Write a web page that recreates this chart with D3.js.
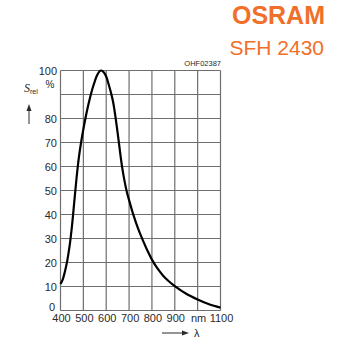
<!DOCTYPE html>
<html><head><meta charset="utf-8">
<script src="https://cdn.jsdelivr.net/npm/d3@7"></script>
<style>body{margin:0;background:#fff}svg{display:block}</style>
</head><body><div id="c"></div>
<script>
const wavelengths = [400,410,420,430,440,450,460,470,480,490,500,510,520,530,540,550,560,570,578,590,600,610,620,630,640,650,660,670,680,690,700,720,740,760,780,800,825,850,875,900,950,1000,1050,1100];
const srel        = [11,13,16.5,21,27,35,45,55,63.5,70,75.5,80.5,85,89,92.5,95.5,98,99.6,100,99.2,97.5,94.5,91,87,81,74,66.5,59.5,54,49.5,46,39.5,34,29.3,25,21.2,17.4,14.4,12.1,10.2,7,4.6,2.6,1.2];
const xTicks = [400,500,600,700,800,900,1000,1100];
const xTickLabels = ["400","500","600","700","800","900","nm","1100"];
const yTicks = [0,10,20,30,40,50,60,70,80,90,100];
const yTickLabels = ["0","10","20","30","40","50","60","70","80","","100"];

const W=350,H=350;
const svg=d3.select("#c").append("svg").attr("width",W).attr("height",H);
const x=d3.scaleLinear().domain([400,1100]).range([60.5,220.5]);
const y=d3.scaleLinear().domain([0,100]).range([310.5,70.5]);
const font="Liberation Sans, Arial, Helvetica, sans-serif";
const txt="#2a2a2a", grid="#6e6e6e", orange="#f0702a";

// grid
svg.append("g").selectAll("line").data(xTicks).join("line")
  .attr("x1",d=>x(d)).attr("x2",d=>x(d)).attr("y1",y(0)).attr("y2",y(100))
  .attr("stroke",grid).attr("stroke-width",1.2);
svg.append("g").selectAll("line").data(yTicks).join("line")
  .attr("y1",d=>y(d)).attr("y2",d=>y(d)).attr("x1",x(400)).attr("x2",x(1100))
  .attr("stroke",grid).attr("stroke-width",1.2);

// curve
const line=d3.line().x((d,i)=>x(wavelengths[i])).y(d=>y(d)).curve(d3.curveCatmullRom.alpha(0.5));
svg.append("path").datum(srel).attr("d",line).attr("fill","none")
  .attr("stroke","#000").attr("stroke-width",2.2).attr("stroke-linejoin","round");

// y labels
svg.append("g").selectAll("text").data(yTicks).join("text")
  .attr("x",d=>d===0?55:57).attr("y",d=>y(d)+(d===0?0:4))
  .attr("text-anchor","end").attr("font-family",font).attr("font-size",11)
  .attr("fill",txt).text((d,i)=>yTickLabels[i]);
svg.append("text").attr("x",50).attr("y",y(94.5)+4).attr("text-anchor","middle")
  .attr("font-family",font).attr("font-size",10).attr("fill",txt).text("%");

// x labels
svg.append("g").selectAll("text").data(xTicks).join("text")
  .attr("x",d=>x(d)+1).attr("y",322)
  .attr("text-anchor","middle").attr("font-family",font).attr("font-size",11)
  .attr("fill",txt).text((d,i)=>xTickLabels[i]);

// axis titles
const s=svg.append("text").attr("x",24).attr("y",92).attr("font-family","Liberation Serif, DejaVu Serif, serif")
  .attr("font-style","italic").attr("font-size",12).attr("fill",txt);
s.append("tspan").text("S");
s.append("tspan").attr("font-family",font).attr("font-style","normal").attr("font-size",7).attr("dy",2).text("rel");
svg.append("line").attr("x1",29).attr("x2",29).attr("y1",124).attr("y2",110).attr("stroke",txt).attr("stroke-width",1);
svg.append("path").attr("d","M29,104 L26.5,111 L31.5,111 Z").attr("fill",txt);

svg.append("line").attr("x1",162).attr("x2",183).attr("y1",333).attr("y2",333).attr("stroke",txt).attr("stroke-width",1);
svg.append("path").attr("d","M189,333 L182,330.5 L182,335.5 Z").attr("fill",txt);
svg.append("text").attr("x",194).attr("y",337).attr("font-family",font).attr("font-size",11).attr("fill",txt).text("λ");

svg.append("text").attr("x",221).attr("y",66).attr("text-anchor","end").attr("font-family",font)
  .attr("font-size",7.5).attr("fill",txt).text("OHF02387");

// brand
svg.append("text").attr("x",325).attr("y",24).attr("text-anchor","end").attr("font-family",font)
  .attr("font-weight","bold").attr("font-size",25).attr("fill",orange).text("OSRAM");
svg.append("text").attr("x",324).attr("y",55).attr("text-anchor","end").attr("font-family",font)
  .attr("font-size",21).attr("fill",orange).text("SFH 2430");
</script></body></html>
